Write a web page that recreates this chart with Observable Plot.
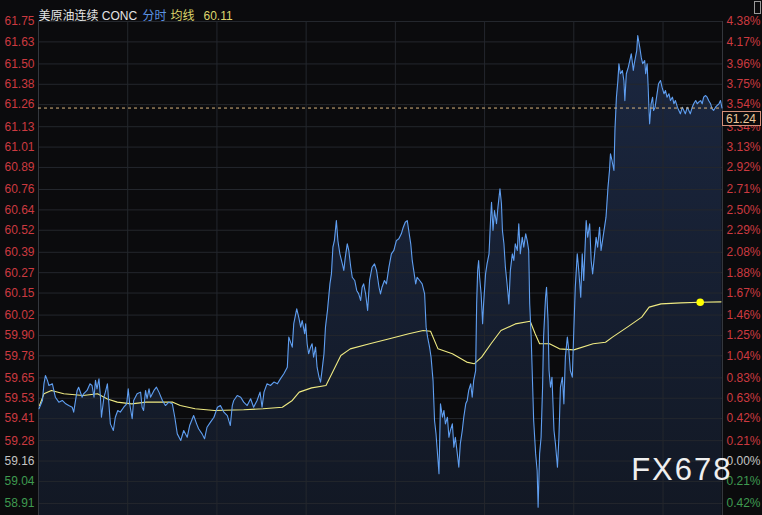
<!DOCTYPE html>
<html><head><meta charset="utf-8">
<script src="https://cdn.jsdelivr.net/npm/d3@7"></script>
<script src="https://cdn.jsdelivr.net/npm/@observablehq/plot@0.6"></script>
<style>
html,body{margin:0;padding:0;background:#0b0b0d;}
#chart{width:762px;height:515px;overflow:hidden}
</style></head><body><div id="chart"></div>
<script>
// ---- data: minutes since session open and last price ----
const priceTimes = [1,8,11,14,18,21,28,34,41,48,55,61,68,71,78,81,88,91,98,104,108,112,115,118,122,125,127,132,135,139,142,145,151,155,160,165,172,178,181,184,189,192,199,206,209,212,216,219,223,226,233,238,243,250,256,263,270,275,280,287,293,300,305,313,319,323,330,335,340,347,354,361,367,374,381,387,391,394,401,408,414,421,428,434,441,447,451,455,461,468,475,482,488,495,502,
505,512,515,521,525,529,532,537,539,542,545,549,552,555,559,562,566,569,572,576,579,583,588,591,594,597,601,604,608,613,616,619,623,626,630,633,638,642,646,650,653,656,660,664,668,673,678,682,687,690,693,698,702,707,712,717,722,727,732,736,740,744,747,751,754,757,761,764,769,774,779,782,785,789,792,796,799,802,804,808,
811,815,818,821,825,828,831,835,838,841,845,848,851,855,858,862,865,868,872,875,878,882,884,886,888,890,893,896,898,902,905,909,912,914,917,920,924,927,931,934,936,939,942,946,949,952,956,959,962,966,969,972,976,979,983,986,989,991,994,996,999,1003,1006,1008,1011,1014,1017,1019,1023,1025,1028,1030,1033,1036,1040,1043,1047,1050,1053,1057,1060,1063,1067,1070,1073,1077,1080,1083,1087,1090,1094,1097,1100,1105,1108,1112,1115,1118,1122,1125,1128,1132,1135,1139,1142,1145,1149,1152,
1154,1157,1161,1163,1166,1169,1171,1174,1178,1181,1183,1186,1190,1193,1196,1200,1202,1207,1209,1213,1216,1219,1223,1225,1228,1230,1232,1233,1236,1239,1241,1244,1248,1251,1255,1258,1262,1265,1268,1272,1275,1279,1282,1285,1289,1292,1295,1299,1302,1305,1309,1312,1315,1319,1322,1326,1329,1332,1336,1339,1342,1346,1349,1352,1356,1359,1362,1366,1369,1373,1376,1379];
const priceValues = [59.468,59.517,59.615,59.664,59.635,59.605,59.615,59.536,59.507,59.517,59.497,59.487,59.477,59.448,59.576,59.595,59.536,59.556,59.576,59.615,59.605,59.536,59.635,59.585,59.644,59.536,59.418,59.536,59.566,59.615,59.497,59.379,59.340,59.418,59.458,59.448,59.477,59.497,59.585,59.497,59.409,59.517,59.556,59.566,59.477,59.458,59.576,59.527,59.585,59.536,59.576,59.595,59.566,59.517,59.487,59.507,59.497,59.418,59.320,59.281,59.340,59.300,59.369,59.428,59.379,59.350,59.320,59.291,59.359,59.389,59.418,59.477,59.487,59.448,59.428,59.369,59.487,59.517,59.546,59.536,59.507,59.487,59.527,59.477,59.517,59.566,59.477,59.566,59.615,59.605,59.625,59.615,59.644,59.674,59.713,
59.890,59.831,59.969,60.057,60.008,59.949,59.988,59.910,59.969,59.851,59.792,59.831,59.851,59.772,59.831,59.713,59.654,59.625,59.693,59.792,59.949,60.047,60.204,60.263,60.420,60.459,60.577,60.459,60.381,60.322,60.283,60.361,60.440,60.401,60.302,60.243,60.224,60.165,60.145,60.106,60.184,60.204,60.145,60.047,60.224,60.302,60.322,60.283,60.184,60.145,60.184,60.224,60.204,60.302,60.381,60.401,60.459,60.470,60.499,60.538,60.567,60.577,60.518,60.440,60.342,60.283,60.204,60.243,60.224,60.204,60.145,59.949,59.890,59.831,59.772,59.634,59.399,59.320,59.241,59.085,
59.497,59.418,59.458,59.379,59.418,59.300,59.340,59.379,59.241,59.300,59.202,59.123,59.261,59.340,59.418,59.497,59.517,59.576,59.615,59.536,59.634,59.693,60.086,60.283,60.342,60.243,60.145,59.969,60.086,60.263,60.322,60.381,60.577,60.685,60.519,60.636,60.558,60.656,60.764,60.676,60.518,60.440,60.302,60.184,60.086,60.283,60.381,60.342,60.440,60.401,60.558,60.381,60.479,60.420,60.499,60.459,60.401,60.086,59.890,59.693,59.399,59.202,59.104,58.888,59.202,59.300,59.595,59.890,60.125,60.184,59.988,59.693,59.595,59.654,59.340,59.261,59.123,59.300,59.595,59.654,59.497,59.772,59.890,59.811,59.693,59.654,59.929,60.184,60.381,60.283,60.125,60.381,60.224,60.577,60.479,60.558,60.342,60.263,60.381,60.479,60.420,60.538,60.401,60.479,60.538,60.597,60.773,60.872,
60.970,60.931,60.872,61.108,61.304,61.402,61.501,61.442,61.461,61.402,61.284,61.442,61.481,61.520,61.560,61.461,61.501,61.579,61.667,61.599,61.540,61.501,61.520,61.442,61.501,61.363,61.206,61.147,61.265,61.304,61.226,61.245,61.324,61.383,61.402,61.363,61.324,61.343,61.304,61.324,61.284,61.304,61.265,61.284,61.245,61.226,61.206,61.245,61.226,61.206,61.245,61.226,61.206,61.245,61.265,61.284,61.265,61.275,61.284,61.265,61.304,61.314,61.304,61.284,61.265,61.235,61.226,61.245,61.255,61.265,61.284,61.240];
const avgTimes = [2,11,26,51,90,119,139,159,188,217,271,286,316,355,414,453,492,512,526,551,580,595,610,629,668,708,747,776,791,806,835,864,879,894,913,933,962,992,1002,1011,1031,1051,1080,1119,1144,1158,1188,1217,1232,1256,1296,1335,1377];
const avgValues = [59.487,59.556,59.576,59.556,59.546,59.556,59.526,59.507,59.497,59.507,59.507,59.487,59.468,59.458,59.462,59.468,59.477,59.517,59.566,59.591,59.605,59.693,59.782,59.821,59.851,59.880,59.910,59.929,59.925,59.821,59.792,59.743,59.733,59.772,59.851,59.929,59.968,59.984,59.910,59.851,59.851,59.821,59.815,59.851,59.860,59.890,59.949,60.008,60.067,60.086,60.092,60.096,60.098];
const avgDotTime = 1335;
const lastPrice = 61.24;
const basePrice = 59.16;
const headerParts = ["美原油连续 CONC", "分时", "均线", "60.11"];
const leftLabels = ["61.75","61.63","61.50","61.38","61.26","61.13","61.01","60.89","60.76","60.64","60.52","60.39","60.27","60.15","60.02","59.90","59.78","59.65","59.53","59.41","59.28","59.16","59.04","58.91"];
const rightLabels = ["4.38%","4.17%","3.96%","3.75%","3.54%","3.34%","3.13%","2.92%","2.71%","2.50%","2.29%","2.08%","1.88%","1.67%","1.46%","1.25%","1.04%","0.83%","0.63%","0.42%","0.21%","0.00%","0.21%","0.42%"];
const gridTimes = [180,360,540,720,900,1080,1260];
const sessionMinutes = 1380;

// ---- build tables ----
const price = priceTimes.map((t,i)=>({t, p: priceValues[i]}));
const avg = avgTimes.map((t,i)=>({t, p: avgValues[i]}));
const avgDot = avg.find(d=>d.t===avgDotTime);
const RED = "#cc3a40", GREEN = "#3f9a50", GREY = "#c4c4c4";
const ticks = leftLabels.map((l,i)=>({v:+l, left:l, right:rightLabels[i],
  c: +l > basePrice ? RED : (+l < basePrice ? GREEN : GREY)}));
const yMin = 58.839;

const headerColors = ["#e4e4e4","#5b92e2","#ddd56c","#ddd56c"];
const headerDx = [0, 104, 132, 165];

const chart = Plot.plot({
  width: 762, height: 515,
  marginLeft: 38, marginRight: 40, marginTop: 21, marginBottom: 0,
  x: {domain: [0, sessionMinutes], axis: null},
  y: {domain: [yMin, 61.75], axis: null},
  color: {type: "identity"},
  style: {background: "#0b0b0d", fontFamily: "'Liberation Sans', Arial, 'Noto Sans CJK SC', sans-serif", fontSize: "12px", overflow: "visible"},
  marks: [
    Plot.areaY(price, {x: "t", y1: () => yMin, y2: "p", fill: "url(#areaGrad)"}),
    Plot.ruleY(ticks, {y: "v", stroke: "#24272d", strokeWidth: 1}),
    Plot.ruleX(gridTimes, {stroke: "#24272d", strokeWidth: 1}),
    Plot.ruleX([0, sessionMinutes], {stroke: "#34373d", strokeWidth: 1}),
    Plot.line(avg, {x: "t", y: "p", stroke: "#efea82", strokeWidth: 1.1}),
    Plot.line(price, {x: "t", y: "p", stroke: "#5f9ef0", strokeWidth: 1.1}),
    Plot.ruleY([lastPrice], {stroke: "#d9b47c", strokeWidth: 1, strokeDasharray: "3,3"}),
    Plot.dot([avgDot], {x: "t", y: "p", r: 3.8, fill: "#ffff00", stroke: "none"}),
    Plot.text(ticks, {y: "v", text: "left", frameAnchor: "left", textAnchor: "end", dx: -4, fill: "c"}),
    Plot.text(ticks, {y: "v", text: "right", frameAnchor: "right", textAnchor: "start", dx: 4, fill: "c"}),
    (index, scales, values, dims) => {
      const y = Math.round(scales.y(lastPrice));
      const x0 = dims.width - dims.marginRight;
      const g = d3.create("svg:g");
      g.append("rect").attr("x", x0 + 0.5).attr("y", y + 3.5).attr("width", 38).attr("height", 14)
        .attr("fill", "#0b0b0d").attr("stroke", "#d4907a");
      g.append("text").attr("x", x0 + 4).attr("y", y + 15).attr("fill", "#ecc79a")
        .attr("text-anchor", "start").attr("font-size", 12).text(lastPrice.toFixed(2));
      g.append("rect").attr("x", dims.width - 7.5).attr("y", 1.5).attr("width", 6).attr("height", 12)
        .attr("fill", "none").attr("stroke", "#9a9a9a");
      return g.node();
    },
    ...headerParts.map((s,i) => Plot.text([s], {text: d => d, frameAnchor: "top-left", textAnchor: "start",
      dx: headerDx[i], dy: -10, fill: headerColors[i]})),
    Plot.text(["FX678"], {text: d => d, frameAnchor: "bottom-right", textAnchor: "end", dx: 10, dy: -36,
      fontSize: 31, fill: "#efefef", fontFamily: "'Liberation Sans', Arial, sans-serif"})
  ]
});

const defs = d3.select(chart).insert("defs", ":first-child");
const lg = defs.append("linearGradient").attr("id", "areaGrad").attr("x1", 0).attr("y1", 0).attr("x2", 0).attr("y2", 1);
lg.append("stop").attr("offset", "0%").attr("stop-color", "#1b2740");
lg.append("stop").attr("offset", "100%").attr("stop-color", "#121824");
d3.select(chart).selectAll("text").filter(function(){ return this.textContent === "FX678"; }).attr("letter-spacing", "2px");
document.getElementById("chart").appendChild(chart);
</script></body></html>
